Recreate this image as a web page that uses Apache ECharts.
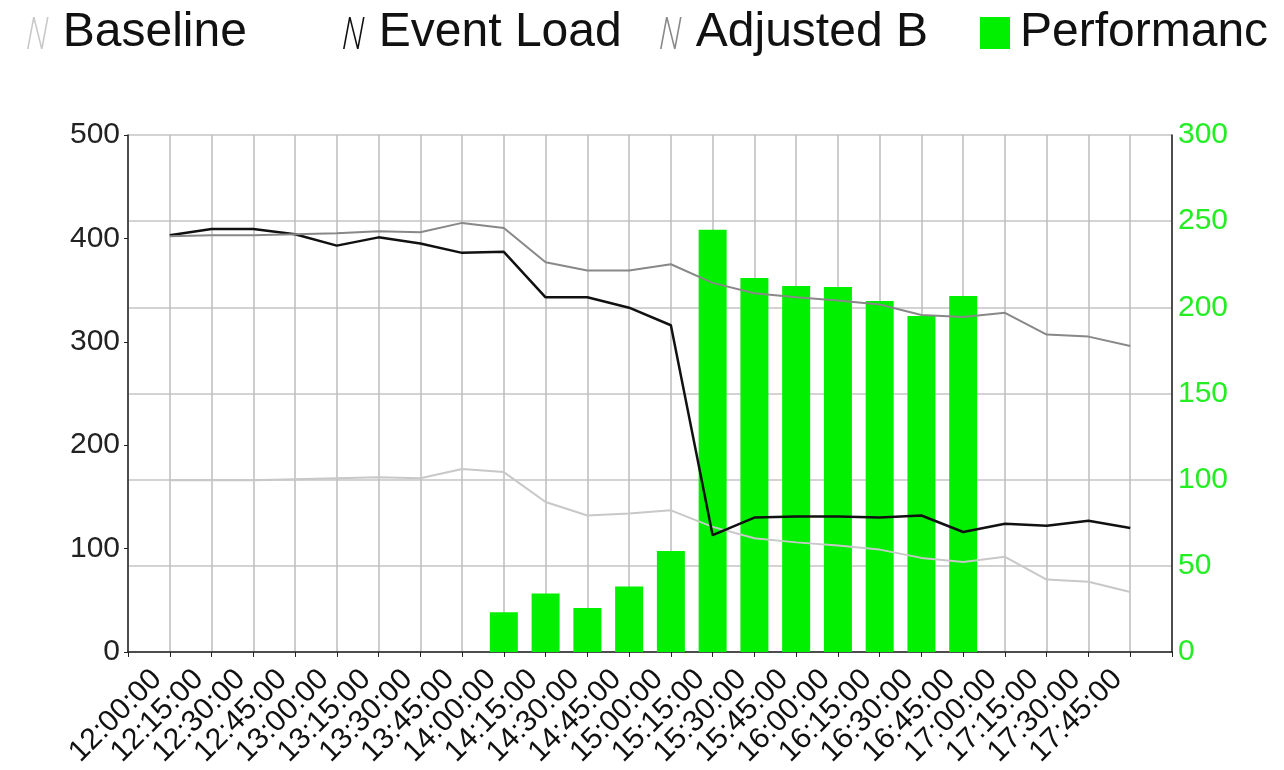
<!DOCTYPE html>
<html>
<head>
<meta charset="utf-8">
<script src="https://cdn.jsdelivr.net/npm/echarts@6/dist/echarts.min.js"></script>
<style>html,body{margin:0;background:#fff}#main{width:1284px;height:770px}</style>
</head>
<body>
<div id="main"></div>
<script>
var times = ['12:00:00', '12:15:00', '12:30:00', '12:45:00', '13:00:00', '13:15:00', '13:30:00', '13:45:00',
  '14:00:00', '14:15:00', '14:30:00', '14:45:00', '15:00:00', '15:15:00', '15:30:00', '15:45:00',
  '16:00:00', '16:15:00', '16:30:00', '16:45:00', '17:00:00', '17:15:00', '17:30:00', '17:45:00'];
var baseline = [166, 166, 166, 167, 168, 169, 168, 177, 174, 145, 132, 134, 137, 121, 110, 106, 103, 99, 91, 87, 92, 70, 68, 58];
var eventLoad = [403, 409, 409, 404, 393, 401, 395, 386, 387, 343, 343, 333, 316, 113, 130, 131, 131, 130, 132, 116, 124, 122, 127, 120];
var adjustedB = [402, 403, 403, 404, 405, 407, 406, 415, 410, 377, 369, 369, 375, 357, 347, 343, 340, 336, 326, 324, 328, 307, 305, 296];
var performanc = [null, null, null, null, null, null, null, null, 23, 34, 25.5, 38, 58.6, 245, 217, 212.4, 211.8, 203.7, 195, 206.6, null, null, null, null];

// one empty slot on each side so the points sit on the inner grid lines
var cats = [''].concat(times, ['']);
function pad(a) { return [null].concat(a, [null]); }

var font = "'Liberation Sans', Arial, sans-serif";
// thin italic "N" built from three filled strokes
var nIcon = 'path://M0,32 L6,0 L7.6,0 L1.6,32 Z M6,0 L7.6,0 L15.6,32 L14,32 Z M14,32 L20,0 L21.6,0 L15.6,32 Z';

// each legend entry sits in its own fixed-width slot
function legendAt(x, item) {
  return {
    left: x, top: 4,
    itemWidth: 30, itemHeight: 32,
    textStyle: { fontSize: 48, color: '#111', fontFamily: font, padding: [0, 0, 0, 5] },
    data: [item]
  };
}

var myChart = echarts.init(document.getElementById('main'));
var option = {
  animation: false,
  backgroundColor: '#fff',
  textStyle: { fontFamily: font },
  legend: [
    legendAt(22, { name: 'Baseline', icon: nIcon, itemStyle: { color: '#c8c8c8', borderWidth: 0 } }),
    legendAt(338, { name: 'Event Load', icon: nIcon, itemStyle: { color: '#111', borderWidth: 0 } }),
    legendAt(655, { name: 'Adjusted B', icon: nIcon, itemStyle: { color: '#888', borderWidth: 0 } }),
    legendAt(975, { name: 'Performanc', icon: 'rect', itemStyle: { color: '#00f000' } })
  ],
  grid: { left: 128, right: 112, top: 135, bottom: 118 },
  xAxis: {
    type: 'category',
    boundaryGap: false,
    data: cats,
    axisLine: { lineStyle: { color: '#222', width: 1.5 } },
    axisTick: { show: true, interval: 0, length: 5, lineStyle: { color: '#222' } },
    axisLabel: { interval: 0, rotate: 45, fontSize: 30, color: '#111', margin: 10, padding: [0, 18, 0, 0], fontFamily: font },
    splitLine: { show: true, interval: 0, lineStyle: { color: '#bdbdbd', width: 1.5 } }
  },
  yAxis: [
    {
      type: 'value', min: 0, max: 500, interval: 100,
      axisLine: { show: true, lineStyle: { color: '#222', width: 1.5 } },
      axisTick: { show: true, length: 4, lineStyle: { color: '#222' } },
      axisLabel: { fontSize: 30, color: '#222', margin: 8, fontFamily: font },
      splitLine: { show: false }
    },
    {
      type: 'value', min: 0, max: 300, interval: 50, position: 'right',
      axisLine: { show: true, lineStyle: { color: '#222', width: 1.5 } },
      axisTick: { show: false },
      axisLabel: { fontSize: 30, color: '#22ee22', margin: 6, fontFamily: font },
      splitLine: { show: true, lineStyle: { color: '#c4c4c4', width: 1.5 } }
    }
  ],
  series: [
    {
      name: 'Baseline', type: 'line', data: pad(baseline), symbol: 'none', z: 3,
      lineStyle: { color: '#c8c8c8', width: 2 }, itemStyle: { color: '#c8c8c8' }
    },
    {
      name: 'Event Load', type: 'line', data: pad(eventLoad), symbol: 'none', z: 3,
      lineStyle: { color: '#111', width: 2.5 }, itemStyle: { color: '#111' }
    },
    {
      name: 'Adjusted B', type: 'line', data: pad(adjustedB), symbol: 'none', z: 3,
      lineStyle: { color: '#888', width: 2 }, itemStyle: { color: '#888' }
    },
    {
      name: 'Performanc', type: 'bar', yAxisIndex: 1, data: pad(performanc), barWidth: 28, z: 1,
      itemStyle: { color: '#00f000' }
    }
  ]
};
myChart.setOption(option);
</script>
</body>
</html>
